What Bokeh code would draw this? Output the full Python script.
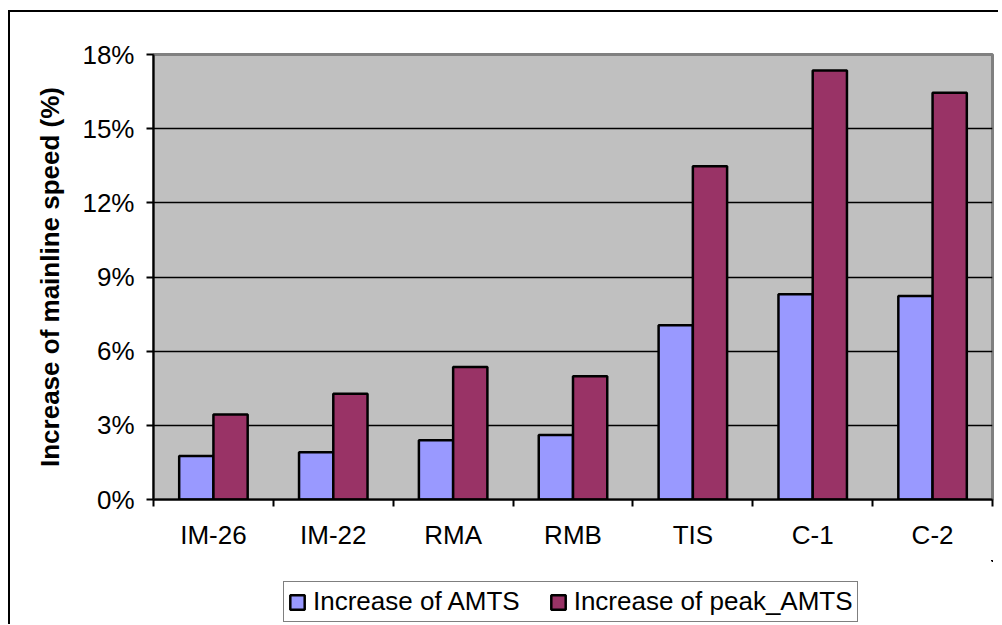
from bokeh.plotting import figure
from bokeh.layouts import column
from bokeh.models import (Range1d, FixedTicker, NumeralTickFormatter, Legend, LegendItem,
                          ColumnDataSource)
from bokeh.embed import file_html
from bokeh.resources import INLINE

categories = ["IM-26", "IM-22", "RMA", "RMB", "TIS", "C-1", "C-2"]
amts = [0.0176, 0.0191, 0.0240, 0.0261, 0.0705, 0.0830, 0.0823]
peak_amts = [0.0344, 0.0428, 0.0536, 0.0499, 0.1348, 0.1735, 0.1645]
y_ticks = [0.0, 0.03, 0.06, 0.09, 0.12, 0.15, 0.18]
series_names = ["Increase of AMTS", "Increase of peak_AMTS"]
series_colors = ["#9999FF", "#993366"]

FONT = "Liberation Sans"
bar_w = 1 / 3.5
W = 988

n = len(categories)
centers = [i + 0.5 for i in range(n)]
src = ColumnDataSource(dict(
    xa=[c - bar_w / 2 for c in centers],
    xb=[c + bar_w / 2 for c in centers],
    amts=amts, peak=peak_amts,
))

p = figure(width=W, height=548, output_backend="svg", toolbar_location=None,
           x_range=Range1d(0, n), y_range=Range1d(0, max(y_ticks)),
           min_border_left=143, min_border_top=42, min_border_right=6,
           min_border_bottom=61)

p.background_fill_color = "#C0C0C0"
p.border_fill_color = "white"
p.outline_line_color = "#808080"
p.outline_line_width = 3

bar_style = dict(line_color="black", line_width=2.5)
p.vbar(x="xa", top="amts", width=bar_w, source=src, fill_color=series_colors[0], **bar_style)
p.vbar(x="xb", top="peak", width=bar_w, source=src, fill_color=series_colors[1], **bar_style)

# grid
p.xgrid.visible = False
p.ygrid.ticker = FixedTicker(ticks=y_ticks)
p.ygrid.grid_line_color = "black"
p.ygrid.grid_line_width = 1.5

# y axis
ya = p.yaxis[0]
ya.ticker = FixedTicker(ticks=y_ticks)
ya.formatter = NumeralTickFormatter(format="0%")
ya.axis_label = "Increase of mainline speed (%)"
ya.axis_label_text_font = FONT
ya.axis_label_text_font_style = "bold"
ya.axis_label_text_font_size = "26px"
ya.axis_label_text_color = "black"
ya.axis_label_standoff = 14
ya.major_label_text_font = FONT
ya.major_label_text_font_size = "26px"
ya.major_label_text_color = "black"
ya.major_label_standoff = 12
ya.major_tick_in = 0
ya.major_tick_out = 7
ya.major_tick_line_width = 2
ya.minor_tick_line_color = None
ya.axis_line_width = 2
ya.axis_line_color = "black"

# x axis
xa = p.xaxis[0]
xa.ticker = FixedTicker(ticks=centers, minor_ticks=list(range(n + 1)))
xa.major_label_overrides = {c: name for c, name in zip(centers, categories)}
xa.major_label_text_font = FONT
xa.major_label_text_font_size = "26px"
xa.major_label_text_color = "black"
xa.major_label_standoff = 13
xa.major_tick_in = 0
xa.major_tick_out = 0
xa.minor_tick_in = 0
xa.minor_tick_out = 7
xa.minor_tick_line_width = 2
xa.minor_tick_line_color = "black"
xa.axis_line_width = 2
xa.axis_line_color = "black"

# legend strip (separate canvas so the legend is not clipped by the plot frame);
# its bars use the same data but lie far outside this strip's visible ranges
pl = figure(width=W, height=64, output_backend="svg", toolbar_location=None,
            x_axis_location=None, y_axis_location=None,
            x_range=Range1d(-1000, -990), y_range=Range1d(-1000, -999),
            min_border_left=0, min_border_right=0, min_border_top=0, min_border_bottom=0)
pl.outline_line_color = None
pl.xgrid.visible = False
pl.ygrid.visible = False
pl.background_fill_color = "white"
l1 = pl.vbar(x="xa", top="amts", width=bar_w, source=src, fill_color=series_colors[0], **bar_style)
l2 = pl.vbar(x="xb", top="peak", width=bar_w, source=src, fill_color=series_colors[1], **bar_style)

legend = Legend(items=[LegendItem(label=series_names[0], renderers=[l1], index=0),
                       LegendItem(label=series_names[1], renderers=[l2], index=0)],
                orientation="horizontal", location=(130, 2))
legend.label_text_font = FONT
legend.label_text_font_size = "26px"
legend.label_text_color = "black"
legend.glyph_width = 18
legend.glyph_height = 18
legend.label_standoff = 7
legend.spacing = 29
legend.padding = 4
legend.margin = 0
legend.border_line_color = "black"
legend.border_line_width = 1.5
legend.background_fill_color = "white"
legend.background_fill_alpha = 1
pl.add_layout(legend, "center")

layout = column(p, pl, spacing=0)
layout.styles = {"border-left": "2px solid #000000", "border-top": "2px solid #000000",
                 "margin-left": "8px", "margin-top": "10px"}

open("out.html", "w").write(file_html(layout, INLINE))
